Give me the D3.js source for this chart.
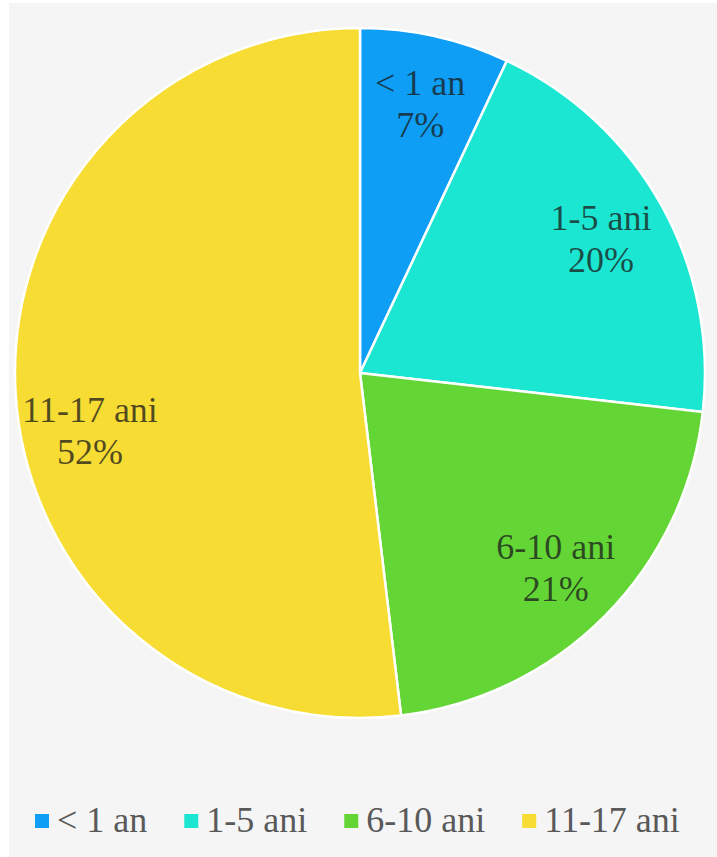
<!DOCTYPE html>
<html>
<head>
<meta charset="utf-8">
<script src="https://cdn.jsdelivr.net/npm/d3@7"></script>
<style>
  body{margin:0;background:#fff;}
  svg{display:block;}
</style>
</head>
<body>
<div id="chart"></div>
<script>
var categories=['< 1 an','1-5 ani','6-10 ani','11-17 ani'];
var values=[7.0,19.8,21.3,51.9];
var colors=['#0e9ef5','#1be6d1','#63d636','#f7dc34'];

// pick a serif face that is really installed
function pickFont(list){
  var c=document.createElement('canvas').getContext('2d');
  var s='11-17 ani 52% mmmWWiil';
  for(var i=0;i<list.length;i++){
    c.font='40px monospace';
    var w1=c.measureText(s).width;
    c.font='40px "'+list[i]+'", monospace';
    var w2=c.measureText(s).width;
    c.font='40px sans-serif';
    var w3=c.measureText(s).width;
    c.font='40px "'+list[i]+'", sans-serif';
    var w4=c.measureText(s).width;
    if(w1!=w2 || w3!=w4){return '"'+list[i]+'"';}
  }
  return 'serif';
}
var fontFam=pickFont(['Liberation Serif','Times New Roman','Tinos','DejaVu Serif','Noto Serif','FreeSerif']);

var width=717, height=857;
var cx=360, cy=373, radius=345;

var svg=d3.select('#chart').append('svg')
  .attr('width',width)
  .attr('height',height);

// chart area background
svg.append('rect')
  .attr('x',9).attr('y',3)
  .attr('width',width-9).attr('height',height-3)
  .attr('fill','#f5f5f5');

var data=categories.map(function(c,i){return {name:c,value:values[i],color:colors[i]};});

var pie=d3.pie().sort(null).value(function(d){return d.value;});
var arcs=pie(data);
var total=d3.sum(values);

var arc=d3.arc().innerRadius(0).outerRadius(radius);

var g=svg.append('g').attr('transform','translate('+cx+','+cy+')');

g.selectAll('path')
  .data(arcs)
  .enter()
  .append('path')
  .attr('d',arc)
  .attr('fill',function(d){return d.data.color;})
  .attr('stroke','#ffffff')
  .attr('stroke-width',2.5)
  .attr('stroke-linejoin','round');

// labels sit at 80% of the radius, big slice pushed down a bit like excel does
var labels=g.selectAll('g.lbl')
  .data(arcs)
  .enter()
  .append('g')
  .attr('class','lbl')
  .attr('transform',function(d){
    var a=(d.startAngle+d.endAngle)/2;
    if(d.index==3){a-=0.15;}
    var r=radius*0.8;
    return 'translate('+(r*Math.sin(a))+','+(-r*Math.cos(a))+')';
  });

labels.append('text')
  .attr('y',-21)
  .attr('dy','0.35em')
  .attr('text-anchor','middle')
  .style('font-family',fontFam)
  .style('font-size','36px')
  .attr('fill','#1a1a1a')
  .attr('fill-opacity',0.75)
  .text(function(d){return d.data.name;});

labels.append('text')
  .attr('y',21)
  .attr('dy','0.35em')
  .attr('text-anchor','middle')
  .style('font-family',fontFam)
  .style('font-size','36px')
  .attr('fill','#1a1a1a')
  .attr('fill-opacity',0.75)
  .text(function(d){return Math.round(d.value/total*100)+'%';});

// legend
var legend=svg.append('g').attr('class','legend');
var lx=35, ly=821;
data.forEach(function(d){
  var item=legend.append('g').attr('transform','translate('+lx+','+ly+')');
  item.append('rect')
    .attr('x',0).attr('y',-7)
    .attr('width',14).attr('height',14)
    .attr('fill',d.color);
  var t=item.append('text')
    .attr('x',22)
    .attr('y',11)
    .style('font-family',fontFam)
    .style('font-size','36px')
    .attr('fill','#595959')
    .text(d.name);
  lx+=22+t.node().getComputedTextLength()+37;
});
</script>
</body>
</html>
